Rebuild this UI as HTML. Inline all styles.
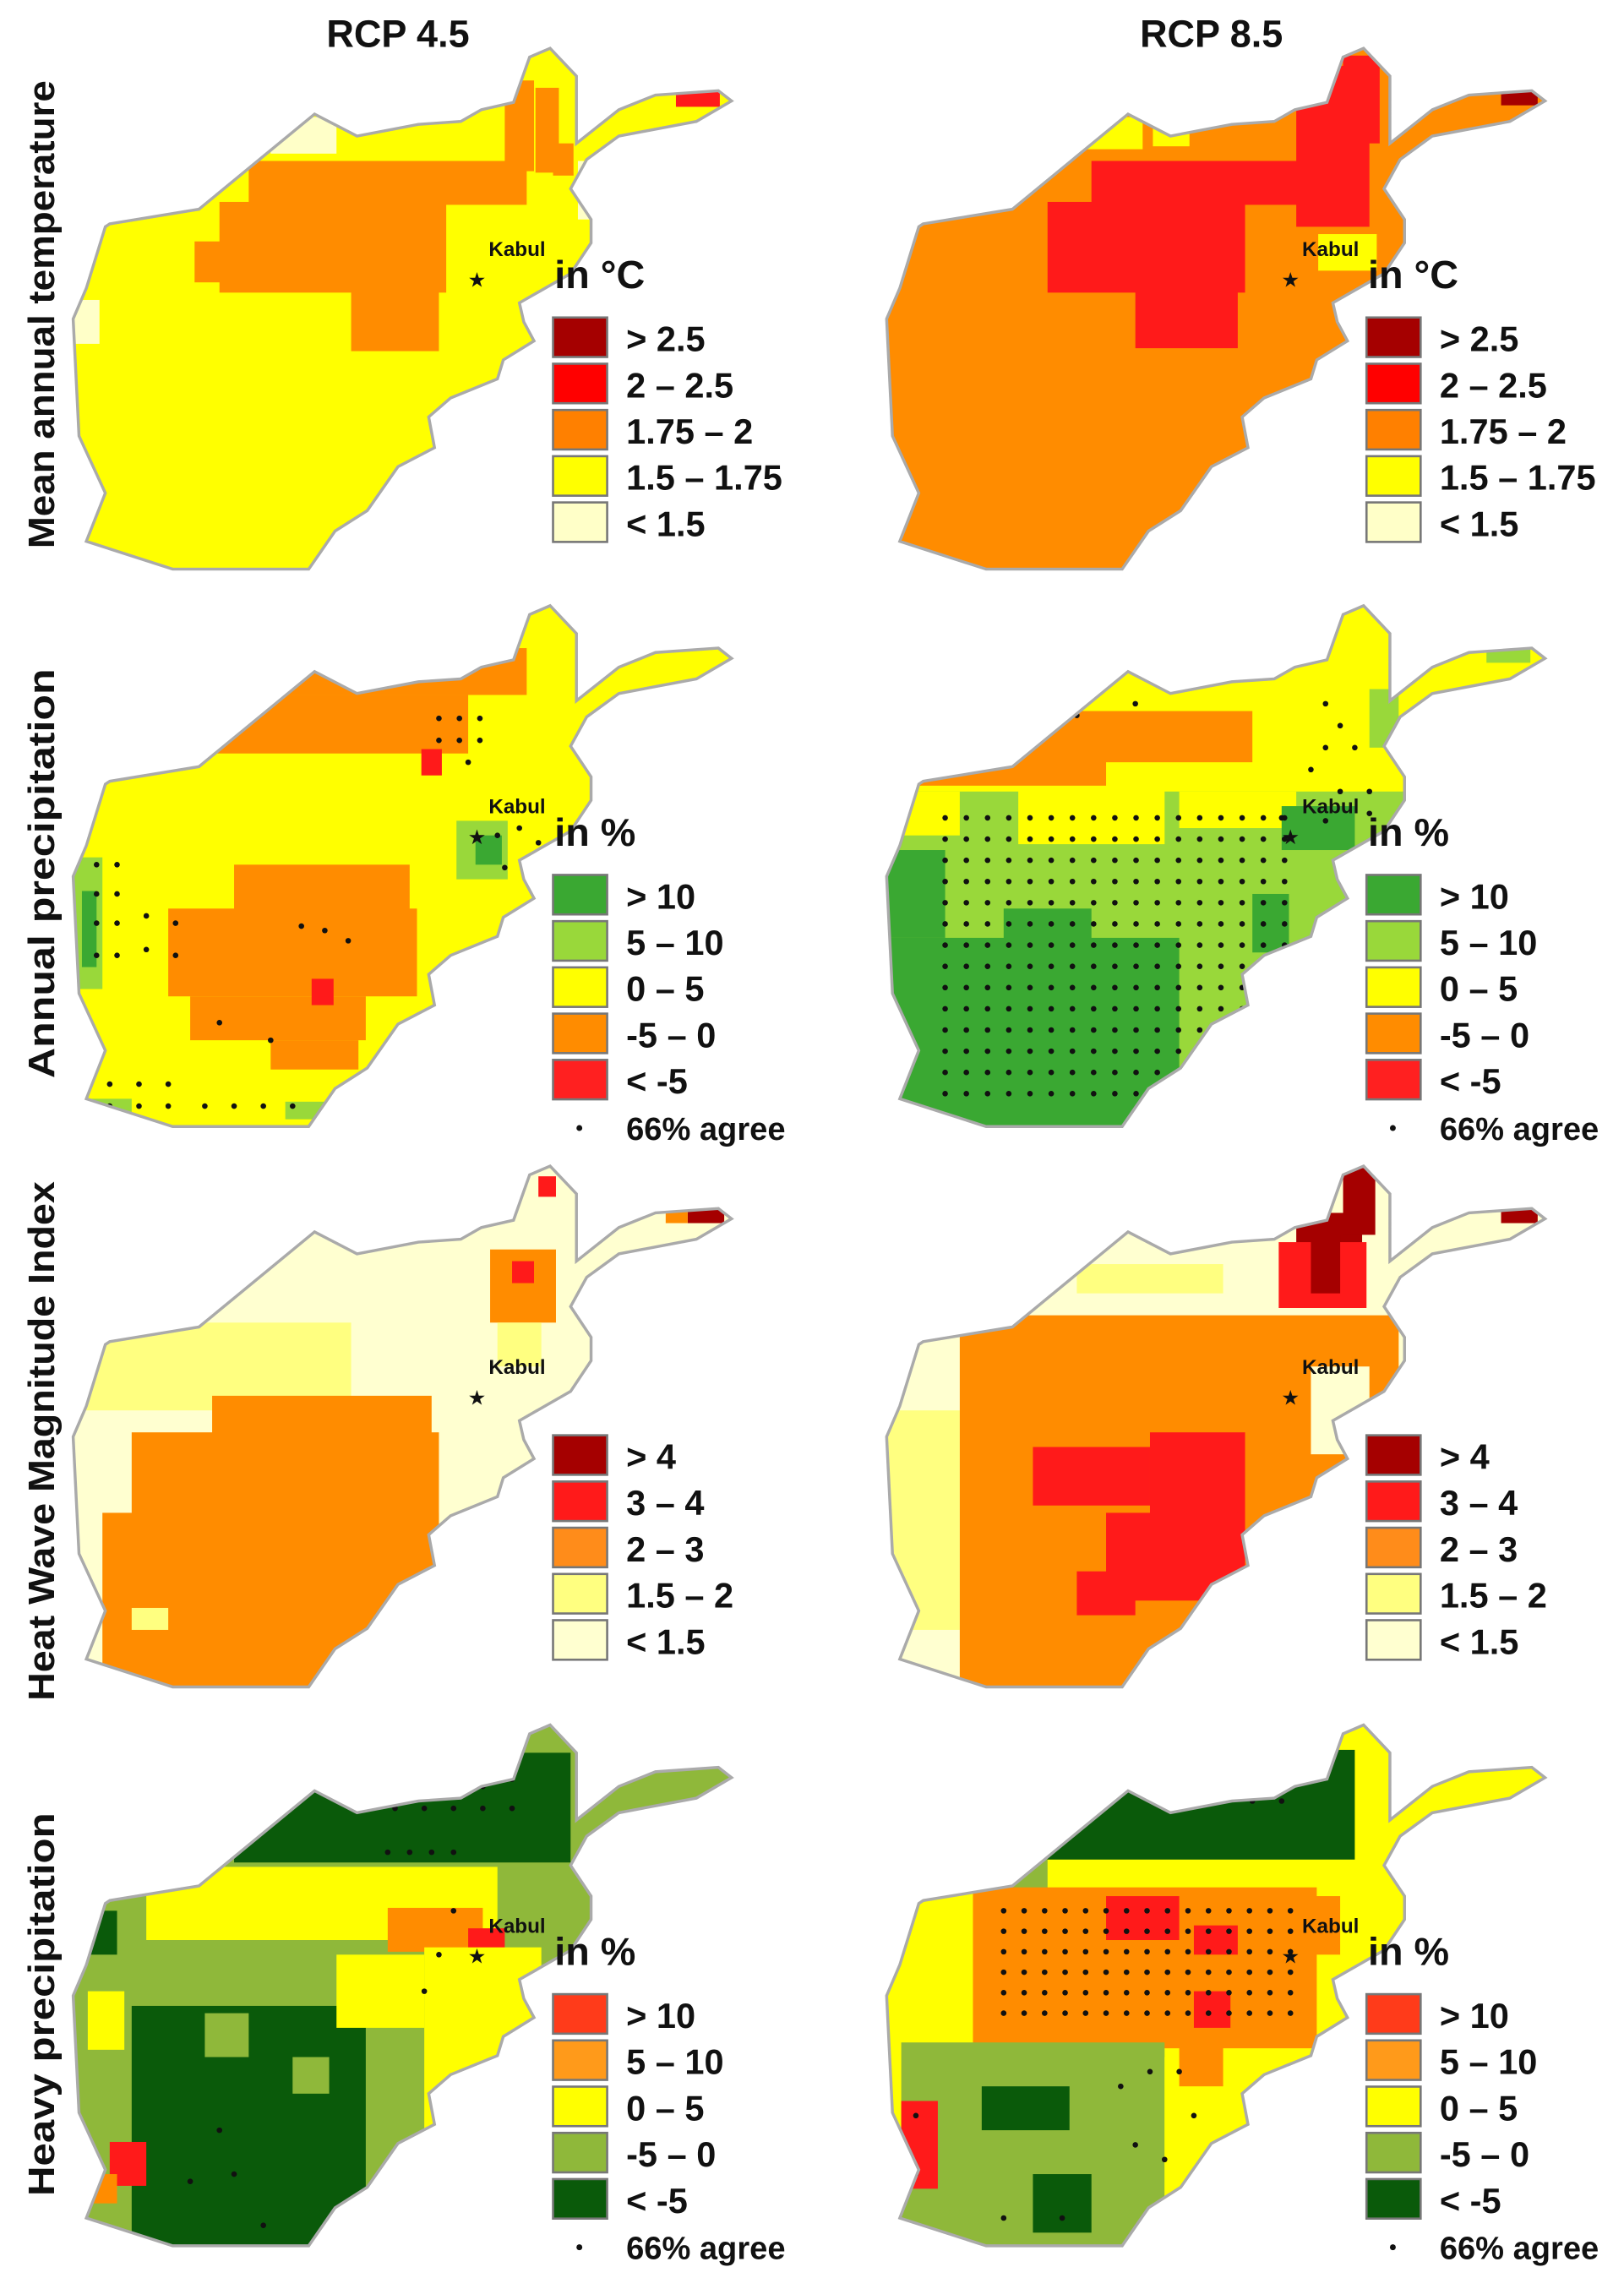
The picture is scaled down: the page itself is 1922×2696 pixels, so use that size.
<!DOCTYPE html>
<html><head><meta charset="utf-8"><style>
html,body{margin:0;padding:0;background:#fff}
svg{display:block}
text{font-family:"Liberation Sans Narrow","Liberation Sans",sans-serif;font-weight:bold;fill:#111}
</style></head><body>
<svg id="s" width="1922" height="2696" viewBox="0 0 1110 1557" xmlns="http://www.w3.org/2000/svg">
<defs>
<clipPath id="cp" clipPathUnits="userSpaceOnUse"><polygon id="afg" points="75,153 136,143 215,78 244,93 286,85 315,83 329,75 351,70 362,39 376,33 394,52 394,98 423,75 448,65 491,62 500,69 476,83 423,93 401,109 390,129 404,150 404,166 390,187 355,207 358,220 365,233 344,246 340,259 308,272 293,285 297,306 272,319 251,349 229,363 211,389 118,389 59,370 72,337 54,298 50,218 59,197 72,155"/></clipPath>
</defs>
<text x="272" y="32" font-size="26" text-anchor="middle">RCP 4.5</text>
<text x="828" y="32" font-size="26" text-anchor="middle">RCP 8.5</text>
<text transform="translate(37,215) rotate(-90)" font-size="25" text-anchor="middle" textLength="320" lengthAdjust="spacingAndGlyphs">Mean annual temperature</text>
<text transform="translate(37,597) rotate(-90)" font-size="25" text-anchor="middle" textLength="280" lengthAdjust="spacingAndGlyphs">Annual precipitation</text>
<text transform="translate(37,985) rotate(-90)" font-size="25" text-anchor="middle" textLength="355" lengthAdjust="spacingAndGlyphs">Heat Wave Magnitude Index</text>
<text transform="translate(37,1370) rotate(-90)" font-size="25" text-anchor="middle" textLength="262" lengthAdjust="spacingAndGlyphs">Heavy precipitation</text>
<g id="root"></g>
</svg>
<script>
var NS="http://www.w3.org/2000/svg";
var root=document.getElementById("root");
function el(tag,attrs,parent,txt){var e=document.createElementNS(NS,tag);for(var k in attrs)e.setAttribute(k,attrs[k]);if(txt!==undefined)e.textContent=txt;(parent||root).appendChild(e);return e;}
var rowOff=[0,381,764,1146];
var legends=[
 {u:"in °C",c:["#a50000","#ff0000","#ff8000","#ffff00","#ffffc8"],t:["> 2.5","2 – 2.5","1.75 – 2","1.5 – 1.75","< 1.5"],a:false},
 {u:"in %",c:["#3aa832","#99d83a","#ffff00","#ff8c00","#ff2020"],t:["> 10","5 – 10","0 – 5","-5 – 0","< -5"],a:true},
 {u:"",c:["#a50000","#ff1a1a","#ff8c1a","#ffff80","#ffffd0"],t:["> 4","3 – 4","2 – 3","1.5 – 2","< 1.5"],a:false},
 {u:"in %",c:["#ff3b1a","#ff9a1a","#ffff00","#8fb83a","#0a5a0a"],t:["> 10","5 – 10","0 – 5","-5 – 0","< -5"],a:true}
];
var Y="#ffff00",O="#ff8c00",R="#ff1a1a",DR="#a50000",PY="#ffffc8",LG="#99d83a",G="#3aa832",LY="#ffff80",PP="#ffffd0",OL="#8fb83a",DG="#0a5a0a",HO="#ff9a1a",HR="#ff3b1a";
function grid(x0,x1,y0,y1,s){var a=[];for(var y=y0;y<=y1;y+=s)for(var x=x0;x<=x1;x+=s)a.push([x,y]);return a;}
var P=[
 {c:0,r:0,bg:Y,rects:[[170,110,190,30,O],[150,138,155,62,O],[133,165,40,28,O],[240,198,60,42,O],[345,55,20,62,O],[366,60,16,58,O],[378,98,14,22,O],[185,80,45,25,PY],[50,205,18,30,PY],[395,110,15,40,PY],[462,62,30,11,R]],dots:[]},
 {c:1,r:0,bg:O,rects:[[190,110,170,30,R],[160,138,135,62,R],[220,198,70,40,R],[330,45,50,110,R],[362,38,25,60,R],[185,80,40,22,Y],[232,86,25,14,Y],[345,160,40,25,Y],[470,60,25,12,DR]],dots:[]},
 {c:0,r:1,bg:Y,rects:[[190,62,170,32,O],[120,94,200,40,O],[160,210,120,60,O],[115,240,170,60,O],[130,300,120,30,O],[185,330,60,20,O],[288,131,14,18,R],[213,288,15,18,R],[50,205,20,90,LG],[56,228,10,52,G],[312,180,35,40,LG],[325,190,18,20,G],[195,372,30,12,LG],[60,370,30,12,LG]],
  dots:[[300,110],[314,110],[328,110],[300,125],[314,125],[328,125],[320,140],[66,210],[80,210],[66,230],[80,230],[66,250],[80,250],[100,245],[120,250],[66,272],[80,272],[100,268],[120,272],[206,252],[222,255],[238,262],[150,318],[185,330],[75,360],[95,360],[115,360],[75,375],[95,375],[115,375],[140,375],[160,375],[180,375],[200,375],[340,190],[355,185],[368,195],[372,210],[345,212]]},
 {c:1,r:1,bg:LG,rects:[[0,30,500,130,Y],[120,105,180,35,O],[60,128,140,28,O],[140,158,100,38,Y],[60,160,40,30,Y],[250,160,80,25,Y],[50,260,200,135,G],[50,200,40,60,G],[320,170,50,30,G],[300,230,25,40,G],[380,90,20,40,LG],[460,60,30,12,LG],[130,240,60,30,G]],
  dots:grid(90,330,178,370,14.5).concat([[180,108],[220,100],[350,100],[360,115],[350,130],[370,130],[340,145],[360,160],[380,160],[380,175],[350,180],[320,178]])},
 {c:0,r:2,bg:PP,rects:[[40,140,200,60,LY],[145,190,150,30,O],[90,215,210,60,O],[70,270,230,120,O],[90,335,25,15,LY],[335,90,45,50,O],[350,98,15,15,R],[368,40,12,14,R],[470,60,25,12,DR],[455,60,15,12,O],[340,140,30,30,LY]],dots:[]},
 {c:1,r:2,bg:PP,rects:[[50,200,50,150,LY],[100,135,300,255,O],[200,140,150,20,O],[150,225,80,40,R],[230,215,65,100,R],[200,270,90,60,R],[180,310,40,30,R],[330,65,45,65,DR],[362,30,22,50,DR],[318,85,60,45,R],[340,80,20,40,DR],[470,60,25,12,DR],[180,100,100,20,LY],[340,170,40,60,PP]],dots:[]},
 {c:0,r:3,bg:OL,rects:[[160,52,230,75,DG],[100,130,240,50,Y],[265,158,65,30,O],[320,172,25,20,R],[290,185,80,130,Y],[90,225,160,165,DG],[140,230,30,30,OL],[200,260,25,25,OL],[75,318,25,30,R],[60,340,20,20,O],[60,215,25,40,Y],[230,190,60,50,Y],[50,160,30,30,DG]],
  dots:[[230,75],[250,75],[270,75],[290,75],[310,75],[330,75],[350,70],[250,90],[270,90],[290,90],[310,90],[330,90],[350,90],[265,120],[280,120],[295,120],[310,120],[310,160],[300,190],[290,215],[150,310],[130,345],[160,340],[180,375]]},
 {c:1,r:3,bg:Y,rects:[[140,50,230,75,DG],[120,125,40,30,OL],[109,144,235,110,O],[200,150,50,30,R],[260,170,30,20,R],[60,250,180,140,OL],[115,280,60,30,DG],[150,340,40,40,DG],[60,290,25,60,R],[240,260,90,100,Y],[260,215,25,25,R],[250,250,30,30,O],[90,60,50,40,DG],[300,150,60,40,O]],
  dots:grid(130,330,160,240,14).concat([[220,65],[240,65],[260,65],[280,65],[300,65],[320,65],[340,60],[240,85],[260,85],[280,85],[300,85],[320,85],[70,300],[70,340],[230,270],[250,270],[210,280],[260,300],[220,320],[240,330],[130,370],[170,370],[230,380]])}
];
P.forEach(function(p){
 var ox=p.c*556, oy=rowOff[p.r];
 var g=el("g",{transform:"translate("+ox+","+oy+")"});
 var inner=el("g",{"clip-path":"url(#cp)"},g);
 el("rect",{x:0,y:0,width:556,height:400,fill:p.bg},inner);
 p.rects.forEach(function(r){el("rect",{x:r[0],y:r[1],width:r[2],height:r[3],fill:r[4]},inner);});
 p.dots.forEach(function(d){el("circle",{cx:d[0],cy:d[1],r:1.9,fill:"#111"},inner);});
 el("use",{href:"#afg",fill:"none",stroke:"#aaa","stroke-width":"2"},g);
 // kabul
 el("text",{x:326,y:196,"font-size":"14","text-anchor":"middle",style:"font-family:'DejaVu Sans',sans-serif"},g,"★");
 el("text",{x:334,y:175,"font-size":"14"},g,"Kabul");
 // legend
 var L=legends[p.r];
 if(L.u) el("text",{x:379,y:197,"font-size":"27"},g,L.u);
 for(var i=0;i<5;i++){
  var y=217+i*31.6;
  el("rect",{x:378,y:y,width:37,height:27,fill:L.c[i],stroke:"#777","stroke-width":"1.5"},g);
  el("text",{x:428,y:y+23,"font-size":"24"},g,L.t[i]);
 }
 if(L.a){
  el("circle",{cx:396,cy:390,r:2,fill:"#111"},g);
  el("text",{x:428,y:398,"font-size":"22"},g,"66% agree");
 }
});
</script>
</body></html>
